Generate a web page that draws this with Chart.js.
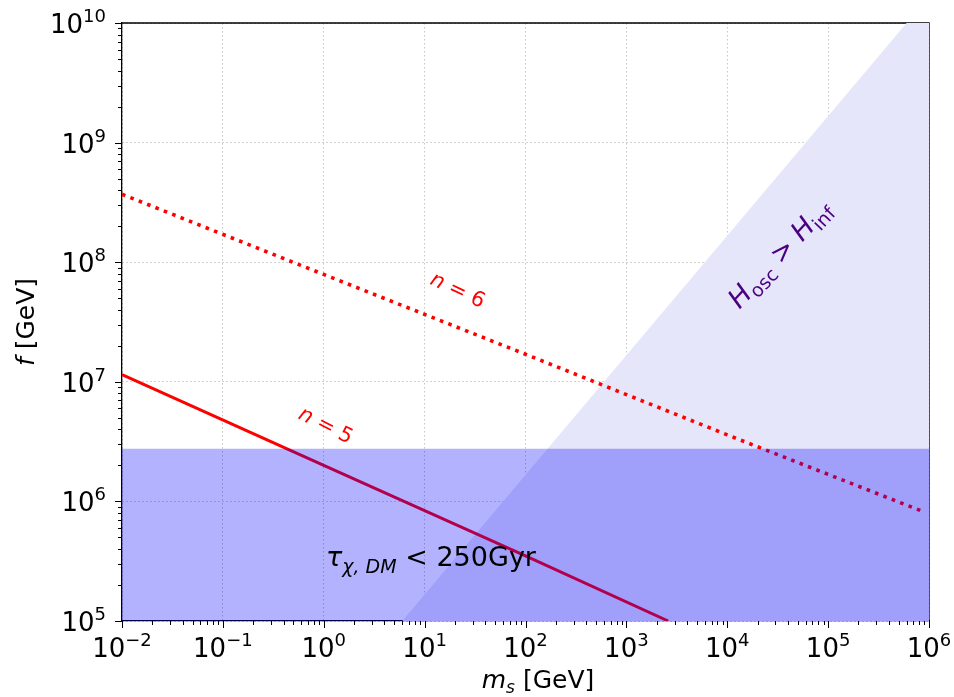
<!DOCTYPE html>
<html>
<head>
<meta charset="utf-8">
<script src="https://cdn.jsdelivr.net/npm/chart.js@4.4.1/dist/chart.umd.min.js"></script>
<style>
  html, body { margin: 0; padding: 0; background: #fff; }
  canvas { display: block; }
</style>
</head>
<body>
<canvas id="chart" width="954" height="697"></canvas>
<script>
/* ---------- data ---------- */
const xTickExps = [-2, -1, 0, 1, 2, 3, 4, 5, 6];
const yTickExps = [5, 6, 7, 8, 9, 10];

// n = 5 (solid)
const n5Mass = [0.01, 1, 100, 2600];
const n5F = [1.15e7, 2.0e6, 3.5e5, 1.0e5];

// n = 6 (dotted)
const n6Mass = [0.01, 1, 100, 1e4, 8.5e5];
const n6F = [3.7e8, 7.9e7, 1.7e7, 3.6e6, 8.3e5];

// H_osc > H_inf region (boundary, filled down to the bottom)
const hoscMass = [6, 6e5, 1e6];
const hoscF = [1e5, 1e10, 1e10];

// tau < 250 Gyr band (filled down to the bottom)
const tauMass = [1e-2, 1e6];
const tauF = [2.75e6, 2.75e6];

const RED = "#ff0000";
const BAND = "rgba(0,0,255,0.3)";
const LAVENDER = "#e6e6fa";
const INDIGO = "#4b0082";
const FONT = "'DejaVu Sans'";

function pts(xs, ys) {
  return xs.map((x, i) => ({ x, y: ys[i] }));
}

function isDecade(v) {
  const l = Math.log10(v);
  return Math.abs(l - Math.round(l)) < 1e-9;
}

// draws a run of text pieces (normal / italic / sub / sup) as one label
function drawRich(ctx, parts, x, y, align, angle, color) {
  ctx.save();
  ctx.translate(x, y);
  ctx.rotate((angle || 0) * Math.PI / 180);
  ctx.textAlign = "left";
  ctx.textBaseline = "alphabetic";
  ctx.fillStyle = color || "#000";
  let w = 0;
  parts.forEach(p => { ctx.font = p.font; p.w = ctx.measureText(p.t).width; w += p.w; });
  let cx = align === "center" ? -w / 2 : align === "right" ? -w : 0;
  parts.forEach(p => {
    ctx.font = p.font;
    ctx.fillText(p.t, cx, p.dy || 0);
    cx += p.w;
  });
  ctx.restore();
}

const decoPlugin = {
  id: "deco",
  beforeDatasetsDraw(chart) {
    const { ctx, chartArea: a } = chart;
    // top and right spines (band is drawn over them)
    ctx.save();
    ctx.strokeStyle = "#000";
    ctx.lineWidth = 1.3;
    ctx.beginPath();
    ctx.moveTo(a.left, a.top);
    ctx.lineTo(a.right, a.top);
    ctx.lineTo(a.right, a.bottom);
    ctx.stroke();
    ctx.restore();
  },
  afterDraw(chart) {
    const { ctx, chartArea: a } = chart;
    const xs = chart.scales.x, ys = chart.scales.y;

    // tick marks
    ctx.save();
    ctx.strokeStyle = "#000";
    ctx.lineWidth = 1;
    ctx.beginPath();
    for (let e = xTickExps[0]; e <= xTickExps[xTickExps.length - 1]; e++) {
      for (let k = 1; k <= 9; k++) {
        if (e === xTickExps[xTickExps.length - 1] && k > 1) break;
        const px = Math.round(xs.getPixelForValue(k * Math.pow(10, e))) + 0.5;
        const len = k === 1 ? 7 : 4;
        ctx.moveTo(px, a.bottom);
        ctx.lineTo(px, a.bottom + len);
      }
    }
    for (let e = yTickExps[0]; e <= yTickExps[yTickExps.length - 1]; e++) {
      for (let k = 1; k <= 9; k++) {
        if (e === yTickExps[yTickExps.length - 1] && k > 1) break;
        const py = Math.round(ys.getPixelForValue(k * Math.pow(10, e))) + 0.5;
        const len = k === 1 ? 7 : 4;
        ctx.moveTo(a.left, py);
        ctx.lineTo(a.left - len, py);
      }
    }
    ctx.stroke();
    ctx.restore();

    // tick labels 10^n
    const big = `26px ${FONT}`, sup = `18px ${FONT}`;
    xTickExps.forEach(e => {
      const px = xs.getPixelForValue(Math.pow(10, e));
      const s = e < 0 ? "\u2212" + (-e) : String(e);
      drawRich(ctx, [{ t: "10", font: big }, { t: s, font: sup, dy: -11 }], px, 657, "center");
    });
    yTickExps.forEach(e => {
      const py = ys.getPixelForValue(Math.pow(10, e));
      drawRich(ctx, [{ t: "10", font: big }, { t: String(e), font: sup, dy: -11 }], 106, py + 10, "right");
    });

    // axis titles
    drawRich(ctx, [
      { t: "m", font: `italic 25px ${FONT}` },
      { t: "s", font: `italic 17px ${FONT}`, dy: 5 },
      { t: " [GeV]", font: `25px ${FONT}` }
    ], 538, 688, "center");
    drawRich(ctx, [
      { t: "f", font: `italic 25px ${FONT}` },
      { t: " [GeV]", font: `25px ${FONT}` }
    ], 34, 322, "center", -90);

    // curve / region annotations
    drawRich(ctx, [
      { t: "n", font: `italic 21px ${FONT}` },
      { t: " = 6", font: `21px ${FONT}` }
    ], 455, 296, "center", 25, RED);
    drawRich(ctx, [
      { t: "n", font: `italic 21px ${FONT}` },
      { t: " = 5", font: `21px ${FONT}` }
    ], 323, 431, "center", 27, RED);
    drawRich(ctx, [
      { t: "\u03c4", font: `italic 27px ${FONT}` },
      { t: "\u03c7, DM", font: `italic 19px ${FONT}`, dy: 7 },
      { t: " < 250Gyr", font: `27px ${FONT}` }
    ], 431, 566, "center");
    drawRich(ctx, [
      { t: "H", font: `italic 27px ${FONT}` },
      { t: "osc", font: `19px ${FONT}`, dy: 6 },
      { t: " > ", font: `27px ${FONT}` },
      { t: "H", font: `italic 27px ${FONT}` },
      { t: "inf", font: `19px ${FONT}`, dy: 6 }
    ], 786, 260, "center", -47, INDIGO);
  }
};

function axisOpts(min, max) {
  return {
    type: "logarithmic",
    min, max,
    ticks: { display: false },
    grid: {
      drawTicks: false,
      lineWidth: 1,
      color: c => (c.tick && isDecade(c.tick.value) ? "rgba(176,176,176,0.75)" : "transparent")
    },
    border: { color: "#000", width: 1.3, dash: [1.5, 2.5] }
  };
}

const xAxis = axisOpts(1e-2, 1e6);
xAxis.afterFit = s => { s.height = 0; };
const yAxis = axisOpts(1e5, 1e10);
yAxis.afterFit = s => { s.width = 0; };

new Chart(document.getElementById("chart"), {
  type: "line",
  data: {
    datasets: [
      { label: "tau band", data: pts(tauMass, tauF), fill: "start", backgroundColor: BAND,
        borderColor: "transparent", borderWidth: 0, pointRadius: 0, order: 0 },
      { label: "n=5", data: pts(n5Mass, n5F), fill: false, borderColor: RED, borderWidth: 3,
        pointRadius: 0, tension: 0, order: 1 },
      { label: "n=6", data: pts(n6Mass, n6F), fill: false, borderColor: RED, borderWidth: 3.6,
        borderDash: [3.6, 5.4], pointRadius: 0, tension: 0, order: 1 },
      { label: "Hosc>Hinf", data: pts(hoscMass, hoscF), fill: "start", backgroundColor: LAVENDER,
        borderColor: "transparent", borderWidth: 0, pointRadius: 0, order: 2 }
    ]
  },
  options: {
    responsive: false,
    animation: false,
    layout: { padding: { left: 122, right: 25, top: 23, bottom: 76 } },
    plugins: { legend: { display: false }, tooltip: { enabled: false } },
    scales: { x: xAxis, y: yAxis }
  },
  plugins: [decoPlugin]
});
</script>
</body>
</html>
